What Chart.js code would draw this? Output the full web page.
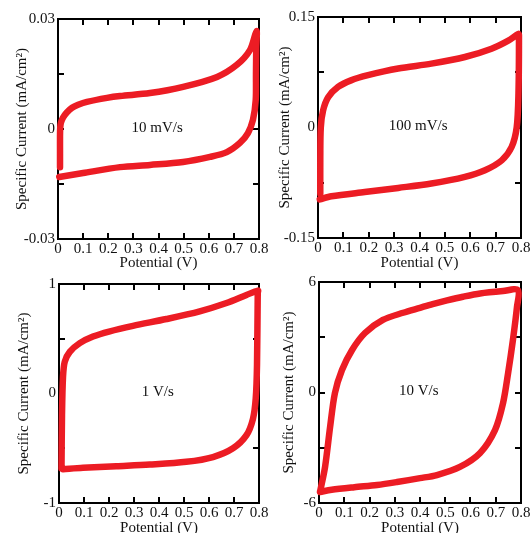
<!DOCTYPE html>
<html>
<head>
<meta charset="utf-8">
<script src="https://cdn.jsdelivr.net/npm/chart.js@4"></script>
<style>
  html, body { margin: 0; padding: 0; background: #fff; overflow: hidden; }
  body { width: 530px; height: 533px; position: relative; }
  canvas { position: absolute; }
</style>
</head>
<body>
<canvas id="c1" width="275" height="274" style="left:0;top:0"></canvas>
<canvas id="c2" width="275" height="274" style="left:265px;top:0"></canvas>
<canvas id="c3" width="275" height="274" style="left:0;top:265px"></canvas>
<canvas id="c4" width="275" height="274" style="left:265px;top:265px"></canvas>
<script>
// scan labels
var scanRates = ["10 mV/s", "100 mV/s", "1 V/s", "10 V/s"];
var xTickLabels = ["0", "0.1", "0.2", "0.3", "0.4", "0.5", "0.6", "0.7", "0.8"];

// y axis labels (min, 0, max) per panel
var yLabels1 = ["-0.03", "0", "0.03"];
var yLabels2 = ["-0.15", "0", "0.15"];
var yLabels3 = ["-1", "0", "1"];
var yLabels4 = ["-6", "0", "6"];
var yMax = [0.03, 0.15, 1, 6];

// 10 mV/s
var pot1 = [0.008, 0.008, 0.008, 0.009, 0.012, 0.02, 0.035, 0.056, 0.08, 0.115, 0.195, 0.247, 0.366, 0.498, 0.633, 0.712, 0.764, 0.79,
            0.789, 0.788, 0.787, 0.776, 0.756, 0.724, 0.672, 0.605, 0.498, 0.366, 0.247, 0.1, 0.005];
var cur1 = [-0.0104, -0.0060, -0.0020, 0.0005, 0.0018, 0.0031, 0.0045, 0.0058, 0.0066, 0.0074, 0.0085, 0.0090, 0.0098, 0.0115, 0.0142, 0.0175, 0.0215, 0.0267,
            0.0220, 0.0150, 0.0079, 0.0025, -0.0011, -0.0038, -0.0063, -0.0076, -0.0090, -0.0098, -0.0104, -0.0120, -0.0131];

// 100 mV/s
var pot2 = [0.009, 0.009, 0.011, 0.02, 0.04, 0.079, 0.13, 0.197, 0.316, 0.447, 0.579, 0.684, 0.75, 0.79,
            0.792, 0.79, 0.783, 0.763, 0.724, 0.658, 0.579, 0.447, 0.316, 0.184, 0.053, 0.007];
var cur2 = [-0.090, -0.040, 0.000, 0.023, 0.041, 0.055, 0.064, 0.071, 0.080, 0.0867, 0.0957, 0.107, 0.118, 0.127,
            0.125, 0.046, 0.000, -0.0265, -0.0446, -0.058, -0.067, -0.076, -0.082, -0.0876, -0.0934, -0.0975];

// 1 V/s
var pot3 = [0.01, 0.012, 0.016, 0.023, 0.043, 0.083, 0.136, 0.2, 0.296, 0.43, 0.563, 0.67, 0.75, 0.796,
            0.795, 0.792, 0.787, 0.776, 0.75, 0.696, 0.616, 0.509, 0.363, 0.229, 0.096, 0.016];
var cur3 = [-0.685, -0.2, 0.15, 0.29, 0.38, 0.46, 0.52, 0.566, 0.618, 0.68, 0.75, 0.826, 0.90, 0.94,
            0.92, 0.26, -0.044, -0.23, -0.38, -0.50, -0.58, -0.624, -0.649, -0.664, -0.679, -0.692];

// 10 V/s
var pot4 = [0.004, 0.024, 0.044, 0.063, 0.091, 0.131, 0.182, 0.253, 0.333, 0.4, 0.45, 0.507, 0.57, 0.638, 0.729, 0.788,
            0.784, 0.768, 0.749, 0.729, 0.697, 0.638, 0.558, 0.467, 0.4, 0.309, 0.23, 0.14, 0.05, 0.004];
var cur4 = [-5.40, -4.04, -1.87, -0.03, 1.22, 2.31, 3.23, 3.94, 4.33, 4.60, 4.80, 5.00, 5.20, 5.38, 5.51, 5.56,
            4.64, 2.85, 1.06, -0.57, -2.04, -3.28, -4.04, -4.48, -4.65, -4.86, -5.02, -5.14, -5.28, -5.40];

var RED = "rgb(236,28,36)";
var FONT = { family: "'Liberation Serif', 'Times New Roman', serif", size: 15 };

var framePlugin = {
  id: "frame",
  beforeDatasetsDraw: function (chart) {
    var ctx = chart.ctx, a = chart.chartArea;
    var xs = chart.scales.x, ys = chart.scales.y;
    ctx.save();
    ctx.strokeStyle = "#000";
    ctx.lineWidth = 2;
    ctx.strokeRect(a.left, a.top, a.right - a.left, a.bottom - a.top);
    ctx.beginPath();
    xs.ticks.forEach(function (t, i) {
      if (i === 0 || i === xs.ticks.length - 1) return;
      var px = Math.round(xs.getPixelForValue(t.value));
      ctx.moveTo(px, a.bottom); ctx.lineTo(px, a.bottom - 6);
      ctx.moveTo(px, a.top); ctx.lineTo(px, a.top + 6);
    });
    ys.ticks.forEach(function (t, i) {
      if (i === 0 || i === ys.ticks.length - 1) return;
      var py = Math.round(ys.getPixelForValue(t.value));
      ctx.moveTo(a.left, py); ctx.lineTo(a.left + 6, py);
      ctx.moveTo(a.right, py); ctx.lineTo(a.right - 6, py);
    });
    ctx.stroke();
    ctx.restore();
  },
  afterDatasetsDraw: function (chart) {
    var o = chart.options.plugins.frame;
    var ctx = chart.ctx;
    ctx.save();
    ctx.fillStyle = "#111";
    ctx.font = "15px 'Liberation Serif', serif";
    ctx.textAlign = "center";
    ctx.textBaseline = "middle";
    ctx.fillText(o.label, chart.scales.x.getPixelForValue(0.395), chart.scales.y.getPixelForValue(0) - 1);
    ctx.restore();
  }
};

function makePanel(id, pot, cur, labels, max, label, box) {
  var pts = pot.map(function (p, i) { return { x: p, y: cur[i] }; });
  new Chart(document.getElementById(id), {
    type: "scatter",
    data: {
      datasets: [{
        data: pts,
        showLine: true,
        borderColor: RED,
        borderWidth: 6.5,
        pointRadius: 0,
        tension: 0.3,
        borderJoinStyle: "round",
        borderCapStyle: "round",
        clip: 8
      }]
    },
    options: {
      responsive: false,
      animation: false,
      devicePixelRatio: 1,
      layout: { padding: { left: 0, top: box.top, right: box.right, bottom: 0 } },
      plugins: { legend: { display: false }, tooltip: { enabled: false }, frame: { label: label } },
      scales: {
        x: {
          type: "linear", min: 0, max: 0.8,
          grid: { display: false, drawTicks: false },
          border: { display: false },
          ticks: {
            stepSize: 0.1, autoSkip: false, maxRotation: 0, padding: 1,
            color: "#111", font: FONT,
            callback: function (v, i) { return xTickLabels[i]; }
          },
          title: { display: true, text: "Potential (V)", color: "#111", font: FONT, padding: { top: 0, bottom: 2 } },
          afterFit: function (s) { s.height = box.xh; s.paddingLeft = 0; s.paddingRight = 0; }
        },
        y: {
          type: "linear", min: -max, max: max,
          grid: { display: false, drawTicks: false },
          border: { display: false },
          ticks: {
            stepSize: max / 2, autoSkip: false, padding: 3,
            color: "#111", font: FONT,
            callback: function (v, i) { return i % 2 === 0 ? labels[i / 2] : ""; }
          },
          title: { display: true, text: "Specific Current (mA/cm²)", color: "#111", font: FONT, padding: { top: box.yt, bottom: 0 } },
          afterFit: function (s) { s.width = box.yw; s.paddingTop = 0; s.paddingBottom = 0; }
        }
      }
    },
    plugins: [framePlugin]
  });
}

makePanel("c1", pot1, cur1, yLabels1, yMax[0], scanRates[0], { top: 19, right: 16, yw: 58, xh: 35, yt: 13 });
makePanel("c2", pot2, cur2, yLabels2, yMax[1], scanRates[1], { top: 17, right: 19, yw: 53, xh: 36, yt: 11 });
makePanel("c3", pot3, cur3, yLabels3, yMax[2], scanRates[2], { top: 19, right: 16, yw: 59, xh: 36, yt: 15 });
makePanel("c4", pot4, cur4, yLabels4, yMax[3], scanRates[3], { top: 17, right: 19, yw: 54, xh: 36, yt: 15 });
</script>
</body>
</html>
